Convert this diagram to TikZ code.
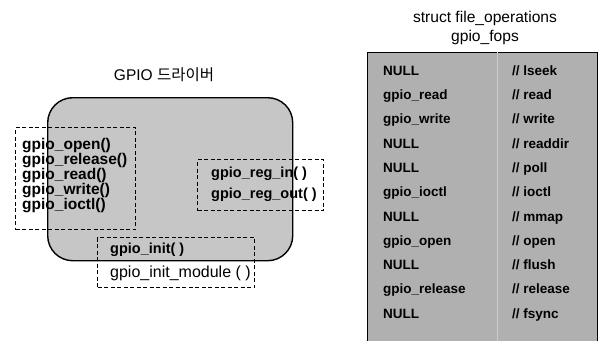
\documentclass[tikz,border=0pt]{standalone}
\usepackage{fontspec}
\setmainfont{Liberation Sans}
\newfontfamily\kor{Noto Sans CJK KR}
\usetikzlibrary{matrix,positioning}
\definecolor{drvgray}{RGB}{198,198,198}
\definecolor{fopsgray}{RGB}{176,176,176}

\begin{document}
\begin{tikzpicture}[x=1pt,y=-1pt,
  dbox/.style={draw,dash pattern=on 4pt off 2.5pt,line width=1.1pt,inner sep=0pt,anchor=north west},
  fmat/.style={matrix of nodes,nodes in empty cells,inner sep=0pt,
    nodes={anchor=base west,inner sep=0pt,text height=11pt,text depth=4pt,
      font=\fontsize{14.5}{15}\selectfont\bfseries},
    row sep=0pt,column sep=0pt}]
 \useasboundingbox (0,0) rectangle (599,340);
 % GPIO driver
 \node[draw,line width=1.4pt,fill=drvgray,rounded corners=25pt,anchor=north west,
  minimum width=245pt,minimum height=163pt] (DRV) at (47,97) {};
 \node[font=\fontsize{15.5}{18}\selectfont] (DRVT) at (164,75) {GPIO {\kor 드라이버}};
 \node[dbox,minimum width=120pt,minimum height=102pt] (FN) at (15,127) {};
 \node[fmat,anchor=north west,nodes={font=\fontsize{15.5}{15}\selectfont\bfseries}] (FNL) at (22,138)
  {gpio\_open()\\ gpio\_release()\\ gpio\_read()\\ gpio\_write()\\ gpio\_ioctl()\\};
 \node[dbox,minimum width=126pt,minimum height=51pt] (REG) at (197,159) {};
 \node[fmat,row sep=6pt,anchor=north west] (REGL) at (211,166)
  {gpio\_reg\_in( )\\ gpio\_reg\_out( )\\};
 \node[dbox,minimum width=157pt,minimum height=50pt] (INIT) at (97,237) {};
 \node[fmat,row sep=9pt,anchor=north west,
  row 2/.style={nodes={font=\fontsize{16}{16}\selectfont}}] (INITL) at (110,242)
  {gpio\_init( )\\ gpio\_init\_module ( )\\};
 % file_operations table
 \node[font=\fontsize{15.6}{19.5}\selectfont,align=center] (FOPST) at (485,28)
  {struct file\_operations\\ gpio\_fops};
 \node[draw,line width=1.2pt,fill=fopsgray,anchor=north west,
  minimum width=230pt,minimum height=300pt] (FOPS) at (367,52) {};
 \draw[white!35!fopsgray,line width=1pt] ([xshift=15pt]FOPS.north) -- ([xshift=15pt]FOPS.south);
 \node[fmat,row sep=9.3pt,anchor=north west,
  nodes={font=\fontsize{13.5}{15}\selectfont\bfseries},
  column 1/.style={nodes={text width=129pt,align=left}}] (FOPSL) at (383,64)
  {NULL & // lseek\\ gpio\_read & // read\\ gpio\_write & // write\\
   NULL & // readdir\\ NULL & // poll\\ gpio\_ioctl & // ioctl\\
   NULL & // mmap\\ gpio\_open & // open\\ NULL & // flush\\
   gpio\_release & // release\\ NULL & // fsync\\};
\end{tikzpicture}
\end{document}
